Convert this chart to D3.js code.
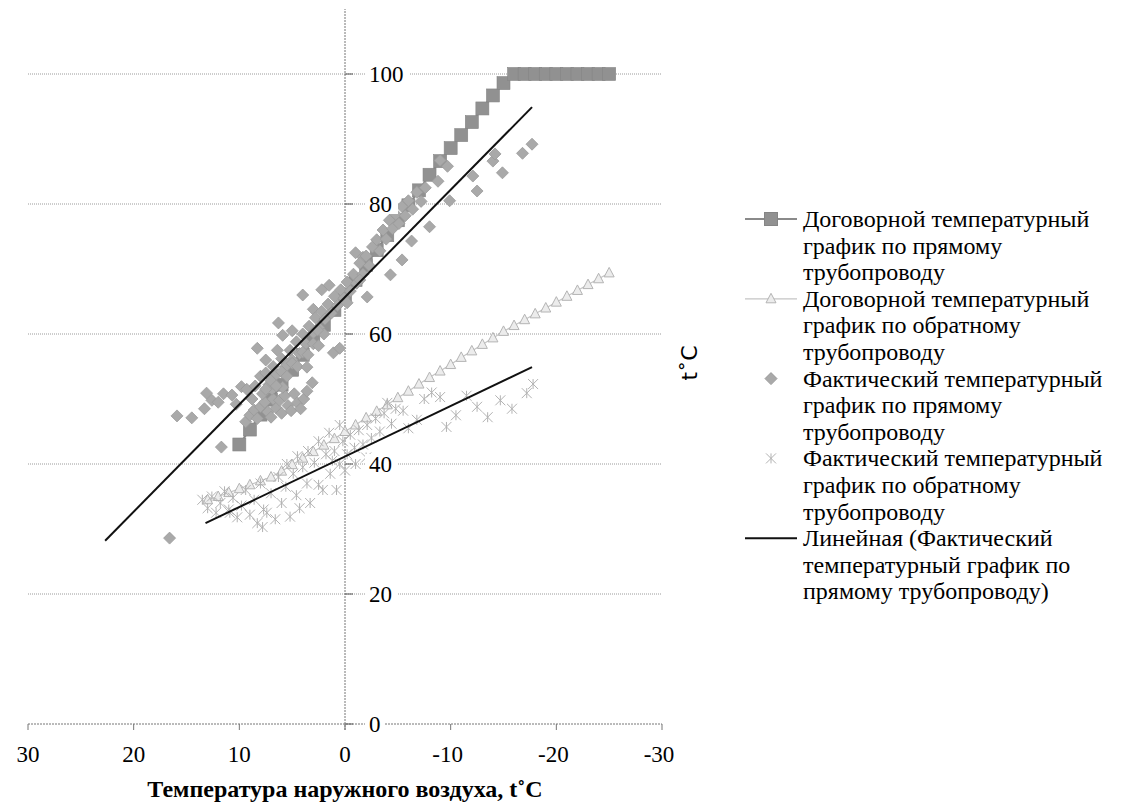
<!DOCTYPE html>
<html lang="ru">
<head>
  <meta charset="UTF-8">
  <title>Температурный график</title>
  <script src="https://d3js.org/d3.v7.min.js"></script>
  <style>
    body { margin: 0; background: #fff; }
    svg { display: block; }
    text { font-family: 'Liberation Serif', 'Times New Roman', 'DejaVu Serif', serif; fill: #000; }
    .grid { stroke: #9a9a9a; stroke-width: 1; stroke-dasharray: 1,1; }
    .axis-line { stroke: #777; stroke-width: 1; stroke-dasharray: 2,1; }
  </style>
</head>
<body>
  <div id="chart"></div>
  <script>
    const width = 1126, height = 807;

    // Договорной температурный график по прямому трубопроводу
    const contractSupplyT = [10, 9, 8, 7, 6, 5, 4, 3, 2, 1, 0, -1, -2, -3, -4, -5, -6, -7, -8, -9,
      -10, -11, -12, -13, -14, -15, -16, -17, -18, -19, -20, -21, -22, -23, -24, -25];
    const contractSupplyV = [43.0, 45.3, 47.6, 49.9, 52.2, 54.5, 56.8, 59.1, 61.4, 63.7, 66.0, 68.3, 70.6, 72.9, 75.2, 77.5, 79.8, 82.1, 84.5, 86.6,
      88.6, 90.6, 92.6, 94.7, 96.7, 98.6, 100, 100, 100, 100, 100, 100, 100, 100, 100, 100];

    // Договорной температурный график по обратному трубопроводу
    const contractReturnT = [13, 12, 11, 10, 9, 8, 7, 6, 5, 4, 3, 2, 1, 0, -1, -2, -3, -4, -5, -6,
      -7, -8, -9, -10, -11, -12, -13, -14, -15, -16, -17, -18, -19, -20, -21, -22, -23, -24, -25];
    const contractReturnV = [34.5, 35.0, 35.6, 36.2, 36.8, 37.4, 38.0, 38.9, 39.9, 40.9, 41.9, 42.9, 43.9, 45.0, 46.0, 47.1, 48.1, 49.1, 50.2, 51.2,
      52.3, 53.3, 54.3, 55.3, 56.4, 57.4, 58.4, 59.4, 60.4, 61.3, 62.2, 63.1, 64.0, 64.9, 65.8, 66.7, 67.6, 68.5, 69.4];

    // Фактический температурный график по прямому трубопроводу [t нар., t воды]
    const actualSupply = [
      [16.6, 28.6], [15.9, 47.4], [14.5, 47.1], [13.3, 48.5], [13.1, 50.9], [12.6, 49.8], [12.0, 49.5], [11.5, 50.8],
      [11.7, 42.6], [10.7, 50.6], [10.3, 49.2], [9.8, 51.9], [9.3, 51.5],
      [9.4, 46.5], [9.0, 47.5], [8.6, 48.3], [8.3, 47.0], [8.0, 48.8], [7.6, 49.5], [7.3, 48.0], [7.0, 47.2], [6.8, 50.0],
      [6.5, 48.6], [6.2, 49.8], [6.0, 47.8], [5.7, 50.5], [5.4, 49.0], [5.1, 48.2], [4.8, 50.8], [4.5, 49.4], [4.2, 48.5],
      [3.9, 50.0], [3.6, 51.2], [7.8, 50.8], [6.9, 51.5], [5.9, 51.8], [8.8, 50.0],
      [8.3, 57.8], [6.4, 57.5], [6.3, 61.7], [5.9, 59.8], [4.0, 66.0], [2.2, 66.8], [7.5, 56.0], [5.0, 60.5], [3.0, 63.8],
      [1.5, 67.5], [-1.0, 72.5], [-1.7, 71.8],
      [8.5, 52.0], [8.0, 53.5], [7.5, 54.0], [7.2, 52.2], [6.8, 55.0], [6.5, 53.8], [6.0, 56.2], [5.6, 55.0], [5.2, 57.5],
      [5.0, 56.0], [4.6, 58.8], [4.3, 57.0], [4.0, 60.0], [3.7, 58.5], [3.4, 61.2], [3.0, 60.2], [2.8, 62.5], [2.5, 61.0],
      [2.2, 63.5], [1.9, 62.3], [1.6, 64.6], [1.3, 63.2], [1.0, 65.8], [0.7, 64.4], [0.4, 66.8], [0.1, 65.5], [-0.2, 68.0],
      [-0.5, 66.6], [-0.8, 69.2], [-1.1, 67.8], [-1.4, 70.9], [-1.7, 69.2], [-2.0, 72.0], [-2.3, 70.5], [-2.6, 73.4],
      [-3.0, 74.5], [-3.3, 72.8], [-3.6, 76.0], [-3.9, 74.6], [-4.2, 77.5], [-4.5, 76.2], [-4.8, 78.4], [-5.1, 77.0],
      [-5.4, 79.6], [-5.7, 78.2], [-6.0, 80.5], [-6.4, 79.2], [-6.8, 81.8], [-7.2, 80.4], [-7.6, 82.5],
      [7.5, 51.5], [7.0, 52.8], [6.5, 52.0], [6.0, 54.2], [5.5, 53.5], [5.0, 55.5], [4.5, 55.0], [4.0, 57.2], [3.5, 56.8],
      [3.0, 58.5], [2.5, 58.2], [2.0, 60.0],
      [3.6, 54.9], [3.1, 52.5], [1.1, 57.1], [0.5, 57.8], [2.6, 60.6], [-0.2, 64.8], [-1.4, 68.3], [-2.1, 65.7],
      [-4.3, 69.1], [-5.4, 71.4], [-6.3, 74.3], [-8.0, 76.5], [-9.9, 80.5], [-8.8, 83.5], [-9.7, 85.8], [-9.0, 86.7],
      [-12.1, 84.3], [-12.5, 82.0], [-14.0, 86.6], [-14.2, 87.7], [-14.9, 84.8], [-16.8, 87.8], [-17.7, 89.2]
    ];

    // Фактический температурный график по обратному трубопроводу
    const actualReturn = [
      [13.5, 34.5], [13.0, 33.2], [12.6, 35.0], [12.2, 32.5], [11.8, 34.0], [11.4, 35.8], [11.0, 33.0], [10.9, 32.5],
      [10.6, 34.8], [10.2, 31.8], [9.8, 33.6], [9.4, 36.0], [9.0, 32.2], [8.6, 34.5], [8.3, 30.9], [8.0, 37.0],
      [7.8, 30.3], [7.7, 33.0], [7.4, 32.5], [7.0, 35.5], [6.6, 31.5], [6.3, 38.0], [6.0, 34.0], [5.6, 36.5],
      [5.5, 40.0], [5.2, 31.9], [4.9, 38.5], [4.6, 35.2], [4.5, 41.2], [4.3, 33.2], [4.0, 39.5], [3.6, 37.0],
      [3.5, 42.0], [3.3, 34.0], [2.9, 40.2], [2.5, 36.8], [2.5, 43.5], [2.1, 36.0], [1.8, 41.5], [1.5, 44.8],
      [1.4, 38.5], [1.2, 40.5], [1.0, 42.0], [0.8, 36.0], [0.5, 40.0], [0.5, 46.0], [0.2, 43.5], [0.0, 39.0],
      [-0.2, 41.5], [-0.5, 44.5], [-0.9, 42.5], [-1.0, 40.0], [-1.3, 45.2], [-1.7, 43.0], [-2.0, 41.0], [-2.1, 46.0],
      [-2.5, 44.0], [-2.9, 47.0], [-3.3, 45.0], [-3.7, 47.8], [-4.0, 49.4], [-4.4, 46.2], [-4.8, 48.5], [-5.5, 48.2],
      [-6.0, 45.5], [-6.8, 46.8], [-7.5, 50.0], [-8.2, 51.0], [-9.0, 50.3], [-9.6, 45.7], [-10.5, 47.5], [-11.5, 50.5],
      [-12.5, 48.8], [-13.5, 47.2], [-14.7, 49.8], [-15.8, 48.5], [-17.2, 50.9], [-17.8, 52.3]
    ];

    // Линейные тренды (концы линий)
    const trendSupply = [[22.7, 28.2], [-17.7, 94.9]];
    const trendReturn = [[13.2, 30.9], [-17.7, 54.9]];

    const xTicks = [30, 20, 10, 0, -10, -20, -30];
    const yTicks = [0, 20, 40, 60, 80, 100];

    const legendItems = [
      ["Договорной температурный", "график по прямому", "трубопроводу"],
      ["Договорной температурный", "график по обратному", "трубопроводу"],
      ["Фактический температурный", "график по прямому", "трубопроводу"],
      ["Фактический температурный", "график по обратному", "трубопроводу"],
      ["Линейная (Фактический", "температурный график по", "прямому трубопроводу)"]
    ];

    const svg = d3.select("#chart").append("svg")
      .attr("width", width)
      .attr("height", height);

    const x = d3.scaleLinear().domain([30, -30]).range([28, 662]);
    const y = d3.scaleLinear().domain([0, 110]).range([724, 9]);

    // gridlines
    svg.append("g").selectAll("line")
      .data(yTicks.filter(d => d > 0))
      .enter().append("line")
      .attr("class", "grid")
      .attr("x1", x(30)).attr("x2", x(-30))
      .attr("y1", d => y(d)).attr("y2", d => y(d));

    // x axis (at y = 0)
    svg.append("line").attr("class", "axis-line")
      .attr("x1", x(30)).attr("x2", x(-30))
      .attr("y1", y(0)).attr("y2", y(0));
    svg.append("g").selectAll("line")
      .data(xTicks).enter().append("line")
      .attr("stroke", "#777")
      .attr("x1", d => x(d)).attr("x2", d => x(d))
      .attr("y1", y(0)).attr("y2", y(0) + 6);
    svg.append("g").selectAll("text")
      .data(xTicks).enter().append("text")
      .attr("x", d => x(d) - (d < 0 ? 3 : 0))
      .attr("y", y(0) + 38)
      .attr("text-anchor", "middle")
      .style("font-size", "23px")
      .text(d => d);

    // y axis (at x = 0)
    svg.append("line").attr("class", "axis-line")
      .attr("x1", x(0)).attr("x2", x(0))
      .attr("y1", y(0) + 6).attr("y2", y(110));
    svg.append("g").selectAll("line")
      .data(yTicks).enter().append("line")
      .attr("stroke", "#555")
      .attr("x1", x(0)).attr("x2", x(0) + 8)
      .attr("y1", d => y(d)).attr("y2", d => y(d));

    // data series
    const plot = svg.append("g");

    const supplyPts = contractSupplyT.map((t, i) => [t, contractSupplyV[i]]);
    const returnPts = contractReturnT.map((t, i) => [t, contractReturnV[i]]);
    const line = d3.line().x(d => x(d[0])).y(d => y(d[1]));

    plot.append("path").datum(supplyPts)
      .attr("d", line).attr("fill", "none")
      .attr("stroke", "#8a8a8a").attr("stroke-width", 2);
    plot.append("g").selectAll("rect")
      .data(supplyPts).enter().append("rect")
      .attr("x", d => x(d[0]) - 6.5).attr("y", d => y(d[1]) - 6.5)
      .attr("width", 13).attr("height", 13)
      .attr("fill", "#919191").attr("stroke", "#858585").attr("stroke-width", 0.6);

    plot.append("path").datum(returnPts)
      .attr("d", line).attr("fill", "none")
      .attr("stroke", "#c4c4c4").attr("stroke-width", 1.2);
    const triPath = "M0,-5.5L5,4L-5,4Z";
    plot.append("g").selectAll("path")
      .data(returnPts).enter().append("path")
      .attr("d", triPath)
      .attr("transform", d => `translate(${x(d[0])},${y(d[1])})`)
      .attr("fill", "#ececec").attr("stroke", "#b4b4b4").attr("stroke-width", 1);

    const diamondPath = "M0,-6L6,0L0,6L-6,0Z";
    plot.append("g").selectAll("path")
      .data(actualSupply).enter().append("path")
      .attr("d", diamondPath)
      .attr("transform", d => `translate(${x(d[0])},${y(d[1])})`)
      .attr("fill", "#a9a9a9").attr("stroke", "#9b9b9b").attr("stroke-width", 0.8);

    const starPath = "M-5,-5L5,5M-5,5L5,-5M0,-5L0,5";
    plot.append("g").selectAll("path")
      .data(actualReturn).enter().append("path")
      .attr("d", starPath)
      .attr("transform", d => `translate(${x(d[0])},${y(d[1])})`)
      .attr("fill", "none").attr("stroke", "#b2b2b2").attr("stroke-width", 1);

    // trendlines
    [trendSupply, trendReturn].forEach(tr => {
      plot.append("path").datum(tr)
        .attr("d", line).attr("fill", "none")
        .attr("stroke", "#111").attr("stroke-width", 2);
    });

    // y tick labels with white backing
    const yLab = svg.append("g").selectAll("g")
      .data(yTicks).enter().append("g");
    yLab.append("rect")
      .attr("x", x(0) + 20).attr("y", d => y(d) - 10)
      .attr("width", d => d === 100 ? 44 : (d === 0 ? 20 : 33)).attr("height", 20)
      .attr("fill", "#fff");
    yLab.append("text")
      .attr("x", x(0) + 24)
      .attr("y", d => y(d) + 8)
      .style("font-size", "23px")
      .text(d => d);

    // axis titles
    svg.append("text")
      .attr("x", x(0)).attr("y", 797)
      .attr("text-anchor", "middle")
      .style("font-size", "24px").style("font-weight", "bold")
      .text("Температура наружного воздуха, t˚C");

    svg.append("text")
      .attr("transform", "translate(697,363) rotate(-90)")
      .attr("text-anchor", "middle")
      .style("font-family", "'DejaVu Sans', sans-serif")
      .style("font-size", "22px")
      .text("t˚C");

    // legend
    const legend = svg.append("g");
    const lx = 803, lineH = 26.6, legendTop = 227;
    legendItems.forEach((lines, i) => {
      const by = legendTop + i * 3 * lineH;
      lines.forEach((s, j) => {
        legend.append("text")
          .attr("x", lx).attr("y", by + j * lineH)
          .style("font-size", "24px")
          .text(s);
      });
      const my = by - 8;
      const g = legend.append("g").attr("transform", `translate(771,${my})`);
      if (i === 0) {
        g.append("line").attr("x1", -26).attr("x2", 26).attr("stroke", "#8a8a8a").attr("stroke-width", 2);
        g.append("rect").attr("x", -6.5).attr("y", -6.5).attr("width", 13).attr("height", 13)
          .attr("fill", "#919191").attr("stroke", "#858585");
      } else if (i === 1) {
        g.append("line").attr("x1", -26).attr("x2", 26).attr("stroke", "#c4c4c4").attr("stroke-width", 1.2);
        g.append("path").attr("d", triPath).attr("fill", "#ececec").attr("stroke", "#b4b4b4");
      } else if (i === 2) {
        g.append("path").attr("d", diamondPath).attr("fill", "#a9a9a9").attr("stroke", "#9b9b9b");
      } else if (i === 3) {
        g.append("path").attr("d", starPath).attr("fill", "none").attr("stroke", "#b2b2b2");
      } else {
        g.append("line").attr("x1", -26).attr("x2", 26).attr("stroke", "#111").attr("stroke-width", 2);
      }
    });
  </script>
</body>
</html>
